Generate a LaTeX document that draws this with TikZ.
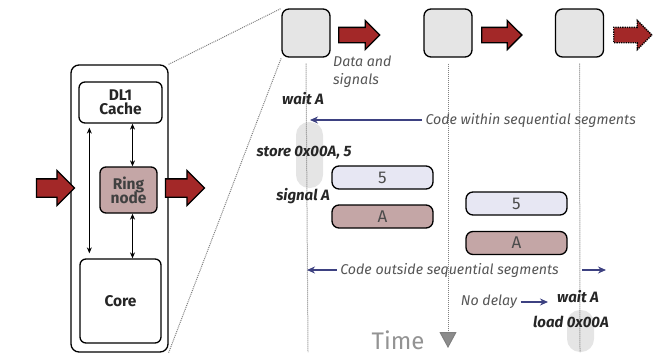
\documentclass[tikz,border=0pt]{standalone}
\usepackage{fontspec}
\setmainfont{Fira Sans}
\usetikzlibrary{shapes.arrows,arrows.meta,positioning}
\definecolor{ringred}{HTML}{C4A6A6}
\definecolor{flowred}{HTML}{A32828}
\definecolor{boxgray}{HTML}{E5E5E5}
\definecolor{valblue}{HTML}{E7E7F3}
\definecolor{notegray}{HTML}{555555}
\definecolor{linkblue}{HTML}{3D4181}
\tikzset{
  unit/.style={draw,line width=1.3pt,rounded corners=6pt,font=\bfseries\fontsize{15.5}{17}\selectfont,text=black!85,align=center},
  tile/.style={draw,line width=1.3pt,rounded corners=7pt,fill=boxgray,minimum width=48pt,minimum height=48pt},
  flow/.style={single arrow,draw=black,line width=1.3pt,fill=flowred,inner xsep=0pt,minimum height=#1},
  bar/.style={draw,line width=1.3pt,rounded corners=7pt,minimum width=101pt,minimum height=23pt,inner sep=0pt,text=black!70,font=\fontsize{17}{17}\selectfont},
  note/.style={text=notegray,font=\itshape\fontsize{14.2}{18}\selectfont},
  op/.style={text=black!85,font=\bfseries\itshape\fontsize{15}{16}\selectfont},
  track/.style={densely dotted,gray,line width=1pt},
  link/.style={linkblue,line width=1.2pt,-{Stealth[length=8pt,width=7pt]}},
  blob/.style={fill=boxgray,rounded corners=13pt}
}
\begin{document}
\begin{tikzpicture}[x=1pt,y=-1pt]
    \useasboundingbox (0,0) rectangle (664,356);

    \node[unit,minimum width=97pt,minimum height=287pt,rounded corners=8pt] (node) at (119.5,208.5) {};
    \node[unit,minimum width=83pt,minimum height=41pt,inner sep=0pt] (dl1) at (120.5,102.5) {DL1\\[-3pt]Cache};
    \node[unit,fill=ringred,minimum width=57pt,minimum height=46pt,inner sep=0pt,text=black!75] (ring) at (128.5,190) {Ring\\[-3pt]node};
    \node[unit,minimum width=81pt,minimum height=84pt] (core) at (120.5,301) {Core};

    \draw[line width=1pt,{Stealth[length=6pt,width=5pt]}-{Stealth[length=6pt,width=5pt]}] ([xshift=11pt,yshift=-4pt]dl1.south west) -- ([xshift=10pt,yshift=5pt]core.north west);
    \draw[line width=1pt,{Stealth[length=6pt,width=5pt]}-{Stealth[length=6pt,width=5pt]}] ([xshift=4pt]ring.north) -- ([xshift=4pt]ring.north |- dl1.south);
    \draw[line width=1pt,{Stealth[length=6pt,width=5pt]}-{Stealth[length=6pt,width=5pt]}] ([xshift=4pt]ring.south) -- ([xshift=4pt]ring.south |- core.north);

    \node[flow=38pt,inner ysep=8.5pt,single arrow head extend=8.5pt] (in) at (51,188) {};
    \node[flow=39pt,inner ysep=8.5pt,single arrow head extend=8.5pt] (out) at (180.5,188) {};

    \node[tile] (t1) at (306,33) {};
    \node[tile] (t2) at (448,33) {};
    \node[tile] (t3) at (579.5,33) {};

    \draw[track] (node.north east) -- (t1.north west);
    \draw[track] (node.south east) -- (t1.south west);

    \node[flow=41pt,inner ysep=7pt,single arrow head extend=7pt] (a1) at (355.5,35) {};
    \node[flow=40pt,inner ysep=7pt,single arrow head extend=7pt] (a2) at (498,35) {};
    \node[flow=38pt,inner ysep=7pt,single arrow head extend=7pt,densely dotted] (a3) at (629,35) {};

    \node[note,align=left,anchor=north west,inner sep=0pt] (data) at (333,56) {Data and\\signals};

    \node[blob,minimum width=27pt,minimum height=66pt] (b1) at (309.5,155) {};
    \node[blob,minimum width=27pt,minimum height=42pt] (b2) at (580.5,331) {};

    \coordinate (e1) at (308,352);
    \coordinate (e2) at (448,348);
    \coordinate (e3) at (580,352);
    \draw[track] ([yshift=-6pt]t1.south) -- (e1);
    \draw[track] ([yshift=-6pt]t3.south) -- (e3);
    \draw[track,-{Triangle[length=16pt,width=17pt,fill=gray!90]}] ([yshift=-6pt]t2.south) -- (e2);

    \node[op] (wait1) at (303,99) {wait A};
    \node[op] (store) at (304,153) {store 0x00A, 5};
    \node[op] (signal) at (303,196) {signal A};

    \node[note,anchor=west] (within) at (422,120) {Code within sequential segments};
    \coordinate (w1) at (310,120);
    \draw[link] (within.west) -- (w1);

    \node[bar,fill=valblue] (v1) at (382.5,177.5) {5};
    \node[bar,fill=ringred] (s1) at (382.5,216.5) {A};
    \node[bar,fill=valblue] (v2) at (516.5,203.5) {5};
    \node[bar,fill=ringred] (s2) at (516.5,243) {A};

    \node[note] (outside) at (449.5,270) {Code outside sequential segments};
    \coordinate (o1) at (307,270);
    \coordinate (o2) at (582,270);
    \coordinate (o3) at (606,270);
    \draw[link] (outside.west) -- (o1);
    \draw[link] (o2) -- (o3);

    \node[note] (nodelay) at (489,302) {No delay};
    \coordinate (n1) at (548,302);
    \draw[link] (nodelay.east) -- (n1);

    \node[op] (wait2) at (578,297) {wait A};
    \node[op] (load) at (571,322) {load 0x00A};

    \node[text=gray!85,font=\fontsize{24}{24}\selectfont] (time) at (398,340) {Time};
\end{tikzpicture}
\end{document}
